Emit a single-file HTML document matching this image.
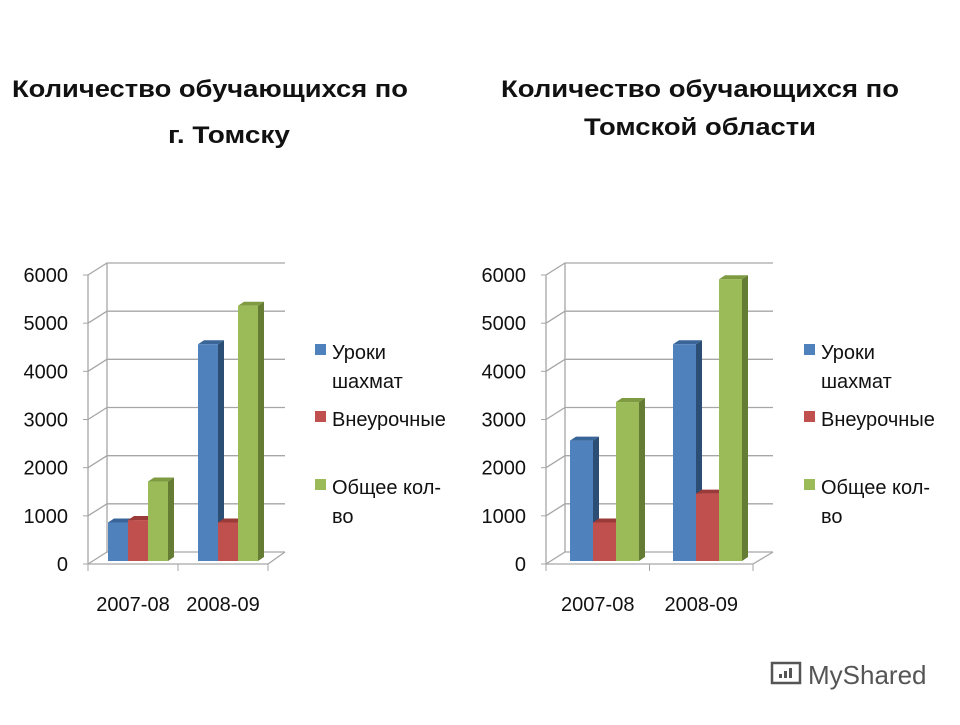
<!DOCTYPE html>
<html><head><meta charset="utf-8"><style>
body{margin:0;background:#fff;width:960px;height:720px;overflow:hidden;font-family:"Liberation Sans",sans-serif}
svg text{font-family:"Liberation Sans","DejaVu Sans",sans-serif}
</style></head><body>
<svg id="s" width="960" height="720" xmlns="http://www.w3.org/2000/svg">
<text x="12" y="97" font-size="24" font-weight="bold" textLength="396" lengthAdjust="spacingAndGlyphs" fill="#111">Количество обучающихся по</text>
<text x="168" y="143" font-size="24" font-weight="bold" textLength="122" lengthAdjust="spacingAndGlyphs" fill="#111">г. Томску</text>
<text x="501" y="97" font-size="24" font-weight="bold" textLength="398" lengthAdjust="spacingAndGlyphs" fill="#111">Количество обучающихся по</text>
<text x="584" y="135" font-size="24" font-weight="bold" textLength="232" lengthAdjust="spacingAndGlyphs" fill="#111">Томской области</text>
<g>
<rect x="772" y="663" width="28" height="20" fill="none" stroke="#555" stroke-width="2.5"/>
<rect x="779" y="674" width="3" height="4" fill="#555"/><rect x="784" y="671" width="3" height="7" fill="#555"/><rect x="789" y="668" width="3" height="10" fill="#555"/>
<text x="808" y="684" font-size="26" fill="#555">MyShared</text>
</g>
</svg>
<script>
const categories=["2007-08","2008-09"];
const seriesNames=["Уроки шахмат","Внеурочные","Общее кол-во"];
const tomskLessons=[800,4500];
const tomskExtra=[850,800];
const tomskTotal=[1650,5300];
const regionLessons=[2500,4500];
const regionExtra=[800,1400];
const regionTotal=[3300,5850];
const yTicks=[0,1000,2000,3000,4000,5000,6000];
const NS="http://www.w3.org/2000/svg";
const svg=document.getElementById('s');
function mk(tag,attrs,parent,text){const e=document.createElementNS(NS,tag);for(const k in attrs)e.setAttribute(k,attrs[k]);if(text!==undefined)e.textContent=text;(parent||svg).appendChild(e);return e;}
const colors=[["#4f81bd","#3a6599","#2c4d74"],["#c0504d","#9b3b39","#7c2e2c"],["#9bbb59","#7e9b42","#647c33"]];
function chart(name,ax,floorRight,backRight,groups,barW,series){
  const g=mk('g',{});
  
  
  const y0=564,scale=(564-275)/6000,dx=19,dy=-12;
  const yv=v=>y0-v*scale;
  yTicks.forEach(t=>{
    const y=yv(t);
    const gl=mk('polyline',{points:`${ax},${y} ${ax+dx},${y+dy} ${backRight},${y+dy}`,fill:'none',stroke:'#a6a6a6','stroke-width':1.3},g);
    
    
    mk('line',{x1:ax-5,y1:y,x2:ax,y2:y,stroke:'#a6a6a6'},g);
    const tl=mk('text',{x:ax-20,y:y+7,'font-size':20,'text-anchor':'end',fill:'#111'},g,String(t));
    
    
  });
  mk('line',{x1:ax,y1:yv(6000),x2:ax,y2:y0,stroke:'#a6a6a6','stroke-width':1.3},g);
  mk('line',{x1:ax+dx,y1:yv(6000)+dy,x2:ax+dx,y2:y0+dy,stroke:'#a6a6a6','stroke-width':1.3},g);
  mk('polyline',{points:`${ax},${y0} ${floorRight},${y0} ${backRight},${y0+dy}`,fill:'none',stroke:'#a6a6a6','stroke-width':1.3},g);
  const mid=(ax+floorRight)/2;
  [ax,mid,floorRight].forEach(x=>mk('line',{x1:x,y1:y0,x2:x,y2:y0+7,stroke:'#a6a6a6'},g));
  const base=561,sd=6,sh=-4;
  groups.forEach((gx,ci)=>{
    const cl=mk('text',{x:(ci===0?(ax+mid)/2:(mid+floorRight)/2),y:611,'font-size':20,'text-anchor':'middle',fill:'#111'},g,categories[ci]);
    
    
    series.forEach((arr,si)=>{
      const x=gx+si*barW,top=base-arr[ci]*scale,c=colors[si];
      const b=mk('g',{},g);
      
      
      mk('polygon',{points:`${x+barW},${top} ${x+barW+sd},${top+sh} ${x+barW+sd},${base+sh} ${x+barW},${base}`,fill:c[2]},b);
      mk('polygon',{points:`${x},${top} ${x+sd},${top+sh} ${x+barW+sd},${top+sh} ${x+barW},${top}`,fill:c[1]},b);
      mk('rect',{x:x,y:top,width:barW,height:base-top,fill:c[0]},b);
    });
  });
}
function legend(x,name){
  const rows=[[352,["Уроки","шахмат"]],[419,["Внеурочные"]],[487,["Общее кол-","во"]]];
  rows.forEach((r,i)=>{
    const lg=mk('g',{});
    
    
    mk('rect',{x:x,y:r[0]-8,width:11,height:11,fill:colors[i][0]},lg);
    r[1].forEach((t,j)=>mk('text',{x:x+17,y:r[0]+7+j*29,'font-size':20,fill:'#111'},lg,t));
  });
}
chart('chart-tomsk',88,268,285,[108,198],20,[tomskLessons,tomskExtra,tomskTotal]);
legend(315,'tomsk');
chart('chart-region',546,753,773,[570,673],23,[regionLessons,regionExtra,regionTotal]);
legend(804,'region');
</script>
</body></html>
